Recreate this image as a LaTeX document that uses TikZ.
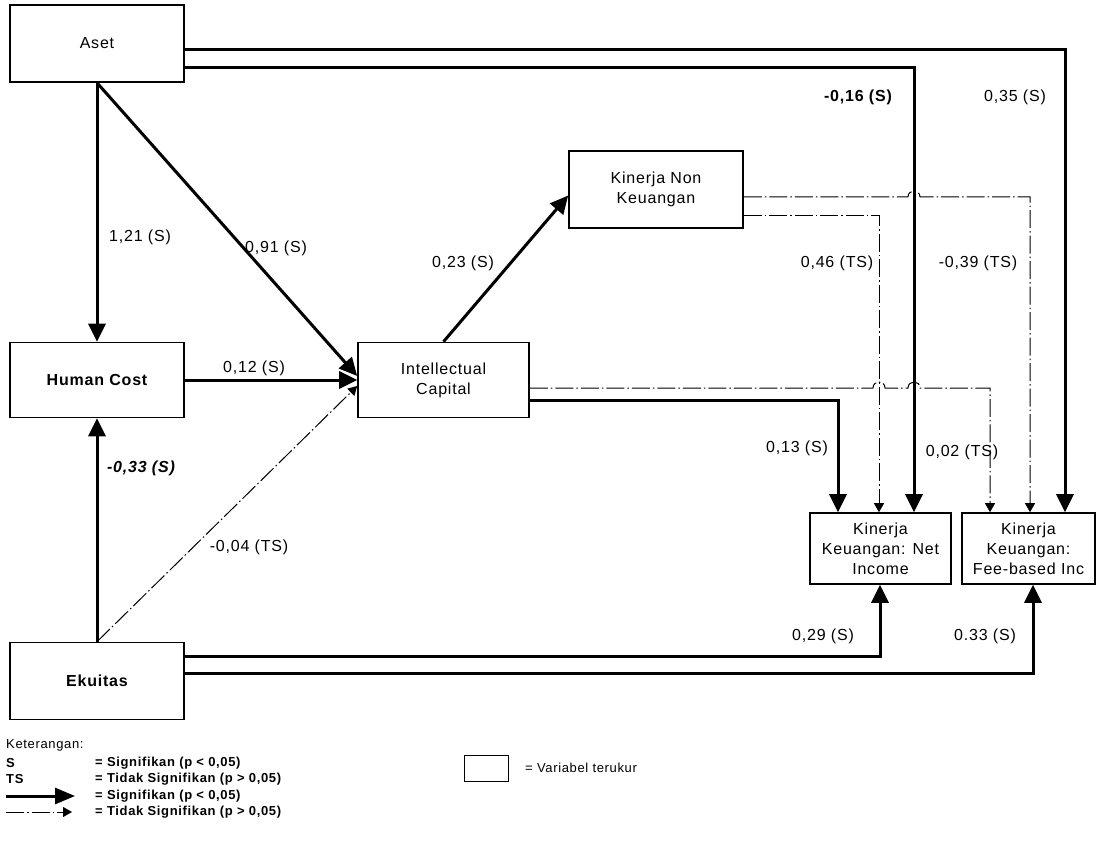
\documentclass[tikz,border=0pt]{standalone}
\usepackage{fontspec}
\setmainfont{Liberation Sans}[LetterSpace=5]
\usetikzlibrary{arrows.meta}
\begin{document}
\begin{tikzpicture}[x=1pt,y=-1pt,
  box/.style={draw, line width=1.6pt, inner sep=0pt, align=center, font=\fontsize{16}{20}\selectfont},
  lbl/.style={font=\fontsize{16}{18}\selectfont, inner sep=0pt},
  sig/.style={line width=3pt, -{Triangle[length=18pt,width=17pt]}},
  ns/.style={line width=1pt, dash pattern=on 18pt off 3pt on 1.5pt off 3pt, -{Triangle[length=9pt,width=10pt]}},
  leg/.style={font=\fontsize{13}{15}\selectfont, anchor=west, inner sep=0pt},
  legb/.style={leg, font=\fontsize{13}{15}\selectfont\bfseries}]
\path[use as bounding box] (0,0) rectangle (1098,842);
% boxes
\node[box, minimum width=174pt, minimum height=77pt] (aset) at (97,43.5) {Aset};
\node[box, minimum width=174pt, minimum height=75pt] (hc) at (97,380) {\bfseries Human Cost};
\node[box, minimum width=171pt, minimum height=75pt] (ic) at (443.5,380) {Intellectual\\Capital};
\node[box, minimum width=174pt, minimum height=77pt] (ek) at (97,681) {\bfseries Ekuitas};
\node[box, minimum width=174pt, minimum height=77pt] (knk) at (656,189.5) {Kinerja Non\\Keuangan};
\node[box, minimum width=141pt, minimum height=71pt] (net) at (880.5,548.5) {Kinerja\\Keuangan: Net\\Income};
\node[box, minimum width=133pt, minimum height=71pt] (fee) at (1028.5,548.5) {Kinerja\\Keuangan:\\Fee-based Inc};
% connectors
\draw[sig] ([yshift=-6.5pt]aset.east) -| (fee.north -| 1065,0);
\draw[sig] ([yshift=-24.5pt]aset.east) -| (net.north -| 914,0);
\draw[sig] (aset.south) -- (hc.north);
\draw[sig] (aset.south) -- ([yshift=4pt]ic.west);
\draw[sig] (hc.east) -- (ic.west);
\draw[sig] (ek.north) -- (hc.south);
\draw[ns] (ek.north) -- ([yshift=-6pt]ic.west);
\draw[sig] (ic.north) -- ([yshift=-6pt]knk.west);
\draw[ns] ([yshift=-26.5pt]knk.east) -| (net.north -| 879,0);
\draw[ns] ([yshift=-7.5pt]knk.east) -- (908,197) .. controls (908,189) and (920,189) .. (920,197) -| (fee.north -| 1030,0);
\draw[ns] ([yshift=-8pt]ic.east) -- (873,388) .. controls (873,380) and (885,380) .. (885,388) -- (908,388) .. controls (908,380) and (920,380) .. (920,388) -| (fee.north -| 990,0);
\draw[sig] ([yshift=-20pt]ic.east) -| (net.north -| 838,0);
\draw[sig] ([yshift=25pt]ek.east) -| (net.south -| 880,0);
\draw[sig] ([yshift=8pt]ek.east) -| (fee.south -| 1033,0);
% labels
\node[lbl] (l1) at (1015,97) {0,35 (S)};
\node[lbl, font=\fontsize{16}{18}\selectfont\bfseries] (l2) at (858,97) {-0,16 (S)};
\node[lbl] (l3) at (140,237) {1,21 (S)};
\node[lbl] (l4) at (276,248) {0,91 (S)};
\node[lbl] (l5) at (463,263) {0,23 (S)};
\node[lbl] (l6) at (837,263) {0,46 (TS)};
\node[lbl] (l7) at (978,263) {-0,39 (TS)};
\node[lbl] (l8) at (254,368) {0,12 (S)};
\node[lbl] (l9) at (797,448) {0,13 (S)};
\node[lbl] (l10) at (962,452) {0,02 (TS)};
\node[lbl, font=\fontsize{16}{18}\selectfont\bfseries\itshape] (l11) at (141,468) {-0,33 (S)};
\node[lbl] (l12) at (249,547) {-0,04 (TS)};
\node[lbl] (l13) at (823,636) {0,29 (S)};
\node[lbl] (l14) at (985,636) {0.33 (S)};
% legend
\node[leg] (ket) at (6,745) {Keterangan:};
\node[legb] (s) at (6,763) {S};
\node[legb] (sdef) at (95,763) {= Signifikan (p < 0,05)};
\node[legb] (ts) at (6,779) {TS};
\node[legb] (tsdef) at (95,779) {= Tidak Signifikan (p > 0,05)};
\coordinate (a1) at (6,796);
\coordinate (a2) at (75,796);
\draw[line width=3pt, -{Triangle[length=20pt,width=16pt]}] (a1) -- (a2);
\node[legb] (adef) at (95,796) {= Signifikan (p < 0,05)};
\coordinate (b1) at (6,812);
\coordinate (b2) at (72,812);
\draw[ns] (b1) -- (b2);
\node[legb] (bdef) at (95,812) {= Tidak Signifikan (p > 0,05)};
\node[draw, line width=1pt, minimum width=44pt, minimum height=26pt, inner sep=0pt] (vbox) at (486,768) {};
\node[leg] (vdef) at (525,768) {= Variabel terukur};
\end{tikzpicture}
\end{document}
